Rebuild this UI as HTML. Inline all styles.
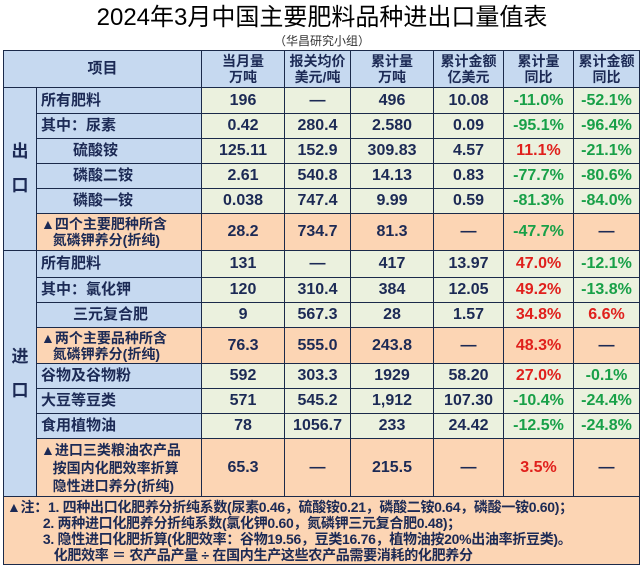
<!DOCTYPE html>
<html><head><meta charset="utf-8">
<style>
html,body{margin:0;padding:0;background:#fff;}
body{width:644px;height:574px;position:relative;overflow:hidden;font-family:"Liberation Sans","Noto Sans CJK SC",sans-serif;}
#title{position:absolute;left:0;top:3px;width:644px;text-align:center;font-size:24px;color:#000;line-height:30px;}
#sub{position:absolute;left:0;top:33px;width:644px;text-align:center;font-size:12px;color:#333;line-height:16px;}
table{position:absolute;left:3px;top:50px;border-collapse:collapse;table-layout:fixed;width:636px;}
td{border:1.3px solid #1b2a4a;padding:0;text-align:center;font-size:16px;font-weight:bold;color:#1c2a55;line-height:18px;white-space:nowrap;}
.h{background:#c6d9f0;font-size:14px;line-height:16px;}
.l{background:#c6d9f0;text-align:left;padding-left:4px;font-size:15px;}
.in{padding-left:36px;}
.d{background:#ebf1de;}
.o{background:#fcd5b4;}
.g{color:#18a048;}
.r{color:#e0201c;}
.side{background:#c6d9f0;font-size:17px;line-height:34px;}
.note{background:#fcd5b4;text-align:left;font-size:14px;line-height:16px;padding:0 0 0 3px;font-weight:bold;letter-spacing:-0.3px;}
</style></head><body>
<div id="title">2024年3月中国主要肥料品种进出口量值表</div>
<div id="sub">（华昌研究小组）</div>
<table>
<colgroup><col style="width:33px"><col style="width:165px"><col style="width:83px"><col style="width:66px"><col style="width:83px"><col style="width:70px"><col style="width:70px"><col style="width:66px"></colgroup>
<tr style="height:37px">
<td class="h" colspan="2" style="font-size:15px">项目</td>
<td class="h">当月量<br>万吨</td><td class="h">报关均价<br>美元/吨</td><td class="h">累计量<br>万吨</td><td class="h">累计金额<br>亿美元</td><td class="h">累计量<br>同比</td><td class="h">累计金额<br>同比</td></tr>
<tr style="height:26px"><td class="side" rowspan="6">出<br>口</td><td class="l">所有肥料</td><td class="d">196</td><td class="d">—</td><td class="d">496</td><td class="d">10.08</td><td class="d g">-11.0%</td><td class="d g">-52.1%</td></tr>
<tr style="height:25px"><td class="l">其中：尿素</td><td class="d">0.42</td><td class="d">280.4</td><td class="d">2.580</td><td class="d">0.09</td><td class="d g">-95.1%</td><td class="d g">-96.4%</td></tr>
<tr style="height:25px"><td class="l in">硫酸铵</td><td class="d">125.11</td><td class="d">152.9</td><td class="d">309.83</td><td class="d">4.57</td><td class="d r">11.1%</td><td class="d g">-21.1%</td></tr>
<tr style="height:25px"><td class="l in">磷酸二铵</td><td class="d">2.61</td><td class="d">540.8</td><td class="d">14.13</td><td class="d">0.83</td><td class="d g">-77.7%</td><td class="d g">-80.6%</td></tr>
<tr style="height:25px"><td class="l in">磷酸一铵</td><td class="d">0.038</td><td class="d">747.4</td><td class="d">9.99</td><td class="d">0.59</td><td class="d g">-81.3%</td><td class="d g">-84.0%</td></tr>
<tr style="height:37px"><td class="l o" style="font-size:14px;line-height:16px">▲四个主要肥种所含<br>&nbsp;&nbsp;&nbsp;氮磷钾养分(折纯)</td><td class="o">28.2</td><td class="o">734.7</td><td class="o">81.3</td><td class="o">—</td><td class="o g">-47.7%</td><td class="o">—</td></tr>
<tr style="height:27px"><td class="side" rowspan="8">进<br>口</td><td class="l">所有肥料</td><td class="d">131</td><td class="d">—</td><td class="d">417</td><td class="d">13.97</td><td class="d r">47.0%</td><td class="d g">-12.1%</td></tr>
<tr style="height:25px"><td class="l">其中：氯化钾</td><td class="d">120</td><td class="d">310.4</td><td class="d">384</td><td class="d">12.05</td><td class="d r">49.2%</td><td class="d g">-13.8%</td></tr>
<tr style="height:25px"><td class="l in">三元复合肥</td><td class="d">9</td><td class="d">567.3</td><td class="d">28</td><td class="d">1.57</td><td class="d r">34.8%</td><td class="d r">6.6%</td></tr>
<tr style="height:36px"><td class="l o" style="font-size:14px;line-height:16px">▲两个主要品种所含<br>&nbsp;&nbsp;&nbsp;氮磷钾养分(折纯)</td><td class="o">76.3</td><td class="o">555.0</td><td class="o">243.8</td><td class="o">—</td><td class="o r">48.3%</td><td class="o">—</td></tr>
<tr style="height:25px"><td class="l">谷物及谷物粉</td><td class="d">592</td><td class="d">303.3</td><td class="d">1929</td><td class="d">58.20</td><td class="d r">27.0%</td><td class="d g">-0.1%</td></tr>
<tr style="height:25px"><td class="l">大豆等豆类</td><td class="d">571</td><td class="d">545.2</td><td class="d">1,912</td><td class="d">107.30</td><td class="d g">-10.4%</td><td class="d g">-24.4%</td></tr>
<tr style="height:25px"><td class="l">食用植物油</td><td class="d">78</td><td class="d">1056.7</td><td class="d">233</td><td class="d">24.42</td><td class="d g">-12.5%</td><td class="d g">-24.8%</td></tr>
<tr style="height:58px"><td class="l o" style="font-size:14px;line-height:18px">▲进口三类粮油农产品<br>&nbsp;&nbsp;&nbsp;按国内化肥效率折算<br>&nbsp;&nbsp;&nbsp;隐性进口养分(折纯)</td><td class="o">65.3</td><td class="o">—</td><td class="o">215.5</td><td class="o">—</td><td class="o r">3.5%</td><td class="o">—</td></tr>
<tr style="height:68px"><td class="note" colspan="8">▲注：1. 四种出口化肥养分折纯系数(尿素0.46，硫酸铵0.21，磷酸二铵0.64，磷酸一铵0.60)；<br>&nbsp;&nbsp;&nbsp;&nbsp;&nbsp;&nbsp;&nbsp;&nbsp;&nbsp;&nbsp;2. 两种进口化肥养分折纯系数(氯化钾0.60，氮磷钾三元复合肥0.48)；<br>&nbsp;&nbsp;&nbsp;&nbsp;&nbsp;&nbsp;&nbsp;&nbsp;&nbsp;&nbsp;3. 隐性进口化肥折算(化肥效率：谷物19.56，豆类16.76，植物油按20%出油率折豆类)。<br>&nbsp;&nbsp;&nbsp;&nbsp;&nbsp;&nbsp;&nbsp;&nbsp;&nbsp;&nbsp;&nbsp;&nbsp;&nbsp;化肥效率 ＝ 农产品产量 ÷ 在国内生产这些农产品需要消耗的化肥养分</td></tr>
</table>
</body></html>
